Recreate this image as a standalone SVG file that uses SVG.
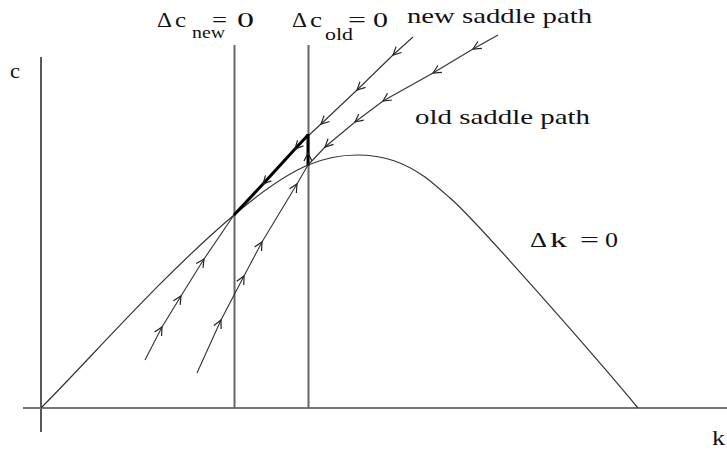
<svg xmlns="http://www.w3.org/2000/svg" width="727" height="452" viewBox="0 0 727 452">
<style>
.t{font-family:"Liberation Serif","Times New Roman",serif;fill:#111;font-size:22px}
.s{font-size:17px}
.ax{stroke:#666;stroke-width:2;fill:none}
.cv{stroke:#333;stroke-width:1.2;fill:none}
.sp{stroke:#333;stroke-width:1.1;fill:none;marker-mid:url(#a)}
.thick{stroke:#000;stroke-width:3;fill:none;marker-mid:url(#a)}
</style>
<defs>
<marker id="a" markerWidth="20" markerHeight="20" refX="10" refY="10" orient="auto" markerUnits="userSpaceOnUse" viewBox="0 0 20 20">
<path d="M2,6 L10,10 L2,14" fill="none" stroke="#222" stroke-width="1.2"/>
</marker>
</defs>
<rect width="727" height="452" fill="#fff"/>
<g id="axes">
<line x1="41" y1="57" x2="41" y2="432" stroke="#222" stroke-width="1.5"/>
<line x1="23" y1="408" x2="727" y2="408" stroke="#777" stroke-width="2"/>
<line x1="234.5" y1="45" x2="234.5" y2="408" class="ax"/>
<line x1="308.5" y1="45" x2="308.5" y2="408" class="ax"/>
</g>
<g id="dk-curve">
<path class="cv" d="M41,408 C90,359 160,278 234,215 C254,198 280,177 308,165 C325,158 340,155 357,155 C385,155 405,163 425,177 C433,183 442,191 450,198 C475,219 600,362 638,408"/>
</g>
<g id="connectors">
<polyline class="sp" points="413,37 393,55 357,90 321,124 308,136"/>
<polyline class="thick" points="308,135 295,149 263,184 234,215"/>
<polyline class="thick" points="308,166 308,153 308,134"/>
<polyline class="sp" points="498,35 473,49 433,73 383,101 355,122 325,147 308,165"/>
<polyline class="sp" points="197,373 221,320 244,276 262,242 297,184 308,165"/>
<polyline class="sp" points="145,360 162,327 181,296 204,259 234,215"/>
</g>
<g id="label-c"><text class="t" x="10" y="78" textLength="10" lengthAdjust="spacingAndGlyphs">c</text></g>
<g id="label-k"><text class="t" x="712" y="445" textLength="13" lengthAdjust="spacingAndGlyphs">k</text></g>
<g id="label-dc-new">
<text class="t" x="157" y="27" textLength="15" lengthAdjust="spacingAndGlyphs">Δ</text>
<text class="t" x="175" y="27" textLength="11" lengthAdjust="spacingAndGlyphs">c</text>
<text class="t s" x="192" y="38" textLength="33" lengthAdjust="spacingAndGlyphs">new</text>
<text class="t" x="212" y="27" textLength="15" lengthAdjust="spacingAndGlyphs">=</text>
<text class="t" x="237" y="27" textLength="17" lengthAdjust="spacingAndGlyphs">0</text>
</g>
<g id="label-dc-old">
<text class="t" x="292" y="27" textLength="15" lengthAdjust="spacingAndGlyphs">Δ</text>
<text class="t" x="310" y="27" textLength="12" lengthAdjust="spacingAndGlyphs">c</text>
<text class="t s" x="325" y="40" textLength="28" lengthAdjust="spacingAndGlyphs">old</text>
<text class="t" x="348" y="27" textLength="18" lengthAdjust="spacingAndGlyphs">=</text>
<text class="t" x="373" y="27" textLength="15" lengthAdjust="spacingAndGlyphs">0</text>
</g>
<g id="label-new-saddle"><text class="t" x="407" y="23" textLength="185" lengthAdjust="spacingAndGlyphs">new saddle path</text></g>
<g id="label-old-saddle"><text class="t" x="415" y="124" textLength="175" lengthAdjust="spacingAndGlyphs">old saddle path</text></g>
<g id="label-dk">
<text class="t" x="530" y="247" textLength="17" lengthAdjust="spacingAndGlyphs">Δ</text>
<text class="t" x="550" y="247" textLength="17" lengthAdjust="spacingAndGlyphs">k</text>
<text class="t" x="580" y="247" textLength="19" lengthAdjust="spacingAndGlyphs">=</text>
<text class="t" x="605" y="247" textLength="13" lengthAdjust="spacingAndGlyphs">0</text>
</g>
</svg>
